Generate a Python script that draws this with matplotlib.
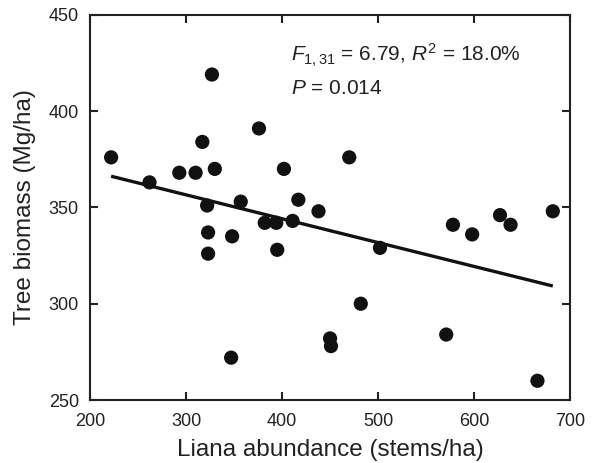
import matplotlib
matplotlib.use('Agg')
import matplotlib.pyplot as plt

# liana abundance (stems/ha) and tree biomass (Mg/ha)
liana = [222, 262, 293, 310, 317, 327, 330, 376, 402, 322, 357, 417, 438,
         323, 348, 323, 382, 394, 411, 395, 347, 450, 451,
         470, 578, 598, 627, 638, 682, 502, 482, 571, 666]
biomass = [376, 363, 368, 368, 384, 419, 370, 391, 370, 351, 353, 354, 348,
           337, 335, 326, 342, 342, 343, 328, 272, 282, 278,
           376, 341, 336, 346, 341, 348, 329, 300, 284, 260]

# fitted regression line end points
fit_x = [222, 682]
fit_y = [366.2, 309.2]

plt.rcParams['font.family'] = ['Liberation Sans', 'DejaVu Sans']
plt.rcParams['mathtext.fontset'] = 'custom'
plt.rcParams['mathtext.rm'] = 'Liberation Sans'
plt.rcParams['mathtext.it'] = 'Liberation Sans:italic'

fig = plt.figure(figsize=(5.92, 4.63), dpi=100)
ax = fig.add_axes([0.152, 0.136, 0.811, 0.832])

ax.plot(fit_x, fit_y, color='#111111', lw=2.4, solid_capstyle='butt', zorder=2)
ax.scatter(liana, biomass, s=105, color='#111111', edgecolors='none', zorder=3)

ax.set_xlim(200, 700)
ax.set_ylim(250, 450)
ax.set_xticks([200, 300, 400, 500, 600, 700])
ax.set_yticks([250, 300, 350, 400, 450])
ax.tick_params(direction='in', length=6, width=1.5, labelsize=13,
               top=True, right=True, colors='#222222')
ax.tick_params(axis='x', pad=9)
ax.tick_params(axis='y', pad=8)
for s in ax.spines.values():
    s.set_linewidth(1.5)
    s.set_color('#222222')

ax.set_xlabel('Liana abundance (stems/ha)', fontsize=17.5, labelpad=7,
              color='#222222')
ax.set_ylabel('Tree biomass (Mg/ha)', fontsize=17.5, labelpad=9,
              color='#222222')

ax.text(0.418, 0.895, r'$F_{\mathrm{1,31}}$ = 6.79, $R^2$ = 18.0%',
        transform=ax.transAxes, fontsize=15, va='center', color='#222222')
ax.text(0.418, 0.81, r'$P$ = 0.014', transform=ax.transAxes,
        fontsize=15, va='center', color='#222222')

fig.savefig('out.png', dpi=100)
